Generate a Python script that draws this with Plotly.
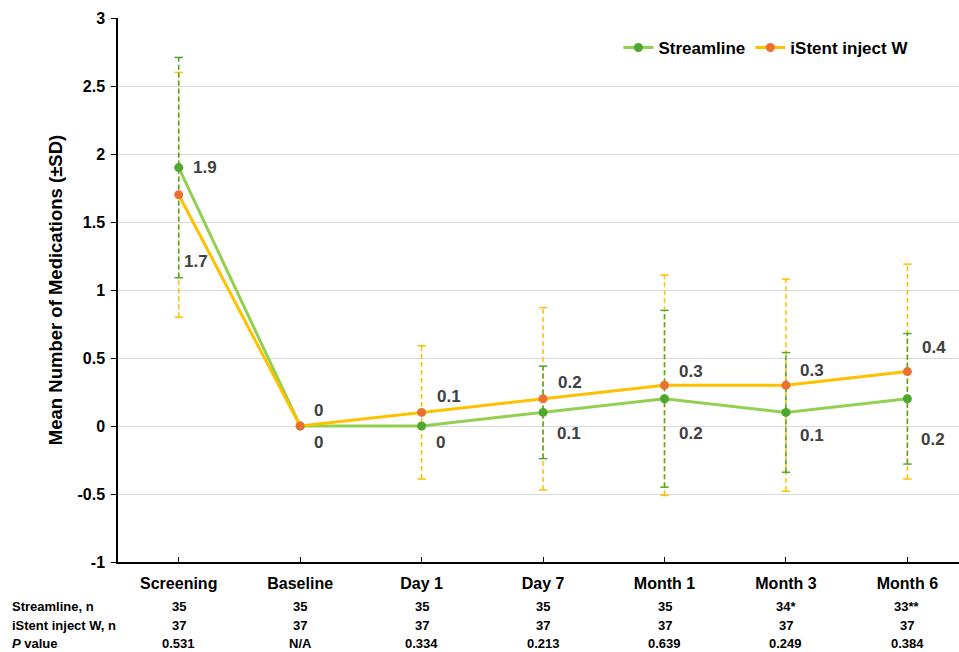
import plotly.graph_objects as go

categories = ["Screening", "Baseline", "Day 1", "Day 7", "Month 1", "Month 3", "Month 6"]
streamline_mean = [1.9, 0, 0, 0.1, 0.2, 0.1, 0.2]
streamline_sd = [0.81, 0, 0, 0.34, 0.65, 0.44, 0.48]
istent_mean = [1.7, 0, 0.1, 0.2, 0.3, 0.3, 0.4]
istent_sd = [0.9, 0, 0.49, 0.67, 0.81, 0.78, 0.79]
streamline_n = ["35", "35", "35", "35", "35", "34*", "33**"]
istent_n = ["37", "37", "37", "37", "37", "37", "37"]
p_values = ["0.531", "N/A", "0.334", "0.213", "0.639", "0.249", "0.384"]
row_labels = ["Streamline, n", "iStent inject W, n", "<i>P</i> value"]

# label offsets (px) -- style only
streamline_lbl_dy = [0, -16, -16, -21, -35, -23, -41]
istent_lbl_dy = [-67, 16, 16, 16, 14, 15, 24]
istent_lbl_dx = [3, 12, 13, 13, 12, 12, 13]

GREEN_LINE = "#92D050"
GREEN_MARK = "#4EA72E"
YELLOW = "#FFC000"
ORANGE = "#E97132"
LABEL_FONT = "Liberation Sans"
NARROW = "Liberation Sans Narrow, Liberation Sans, Arial"

xs = list(range(len(categories)))


def err_trace(mean, sd, color):
    ex, ey = [], []
    for i, (m, s) in enumerate(zip(mean, sd)):
        if s > 0:
            ex += [i, i, None]
            ey += [m - s, m + s, None]
    return go.Scatter(
        x=ex, y=ey, mode="lines+markers",
        line=dict(color=color, width=1.5, dash="5px,3px"),
        marker=dict(symbol="line-ew-open", size=6, line=dict(color=color, width=1.5)),
        showlegend=False, hoverinfo="skip",
    )


fig = go.Figure()
fig.add_trace(err_trace(istent_mean, istent_sd, YELLOW))
fig.add_trace(err_trace(streamline_mean, streamline_sd, GREEN_MARK))
fig.add_trace(go.Scatter(
    x=xs, y=streamline_mean, mode="lines+markers", name="Streamline",
    line=dict(color=GREEN_LINE, width=3),
    marker=dict(color=GREEN_MARK, size=9),
))
fig.add_trace(go.Scatter(
    x=xs, y=istent_mean, mode="lines+markers", name="iStent inject W",
    line=dict(color=YELLOW, width=3),
    marker=dict(color=ORANGE, size=9),
))

annotations = []
for i in xs:
    annotations.append(dict(
        x=i, y=streamline_mean[i], xref="x", yref="y", text=f"{streamline_mean[i]:g}",
        showarrow=False, xanchor="left", yanchor="middle", xshift=12,
        yshift=streamline_lbl_dy[i], font=dict(family=LABEL_FONT, size=17, color="#404040", weight="bold"),
    ))
    annotations.append(dict(
        x=i, y=istent_mean[i], xref="x", yref="y", text=f"{istent_mean[i]:g}",
        showarrow=False, xanchor="left", yanchor="middle", xshift=istent_lbl_dx[i],
        yshift=istent_lbl_dy[i], font=dict(family=LABEL_FONT, size=17, color="#404040", weight="bold"),
    ))

row_y = [-0.081, -0.116, -0.149]
rows = [streamline_n, istent_n, p_values]
for r, (lbl, vals) in enumerate(zip(row_labels, rows)):
    annotations.append(dict(
        x=-0.129, y=row_y[r], xref="paper", yref="paper", text=lbl, showarrow=False,
        xanchor="left", yanchor="middle", font=dict(family=NARROW, size=13, color="black", weight="bold"),
    ))
    for i, v in enumerate(vals):
        annotations.append(dict(
            x=i, y=row_y[r], xref="x", yref="paper", text=v, showarrow=False,
            xanchor="center", yanchor="middle", font=dict(family=NARROW, size=13, color="black", weight="bold"),
        ))

fig.update_layout(
    width=959, height=652,
    margin=dict(l=118, r=0, t=18, b=90),
    plot_bgcolor="white", paper_bgcolor="white",
    annotations=annotations,
    legend=dict(
        orientation="h", x=0.595, y=0.945, xanchor="left", yanchor="middle",
        font=dict(family=LABEL_FONT, size=17, color="black", weight="bold"),
        bgcolor="rgba(0,0,0,0)", itemwidth=30,
    ),
    xaxis=dict(
        range=[-0.5, 6.425], tickvals=xs, ticktext=categories,
        showline=True, linecolor="black", linewidth=1.5,
        ticks="inside", ticklen=5, tickcolor="black", showgrid=False, zeroline=False,
        tickfont=dict(family=NARROW, size=16, color="black", weight="bold"),
        ticklabelstandoff=6,
    ),
    yaxis=dict(
        range=[-1, 3], tickvals=[-1, -0.5, 0, 0.5, 1, 1.5, 2, 2.5, 3],
        ticktext=["-1", "-0.5", "0", "0.5", "1", "1.5", "2", "2.5", "3"],
        showline=True, linecolor="black", linewidth=1.5,
        ticks="outside", ticklen=5, tickcolor="black",
        showgrid=True, gridcolor="#D9D9D9", gridwidth=1, zeroline=False,
        tickfont=dict(family=LABEL_FONT, size=16, color="black", weight="bold"),
        ticklabelstandoff=3,
        title=dict(text="Mean Number of Medications (±SD)", standoff=10,
                   font=dict(family=LABEL_FONT, size=18.5, color="black", weight="bold")),
    ),
)

fig.write_html("out.html")
